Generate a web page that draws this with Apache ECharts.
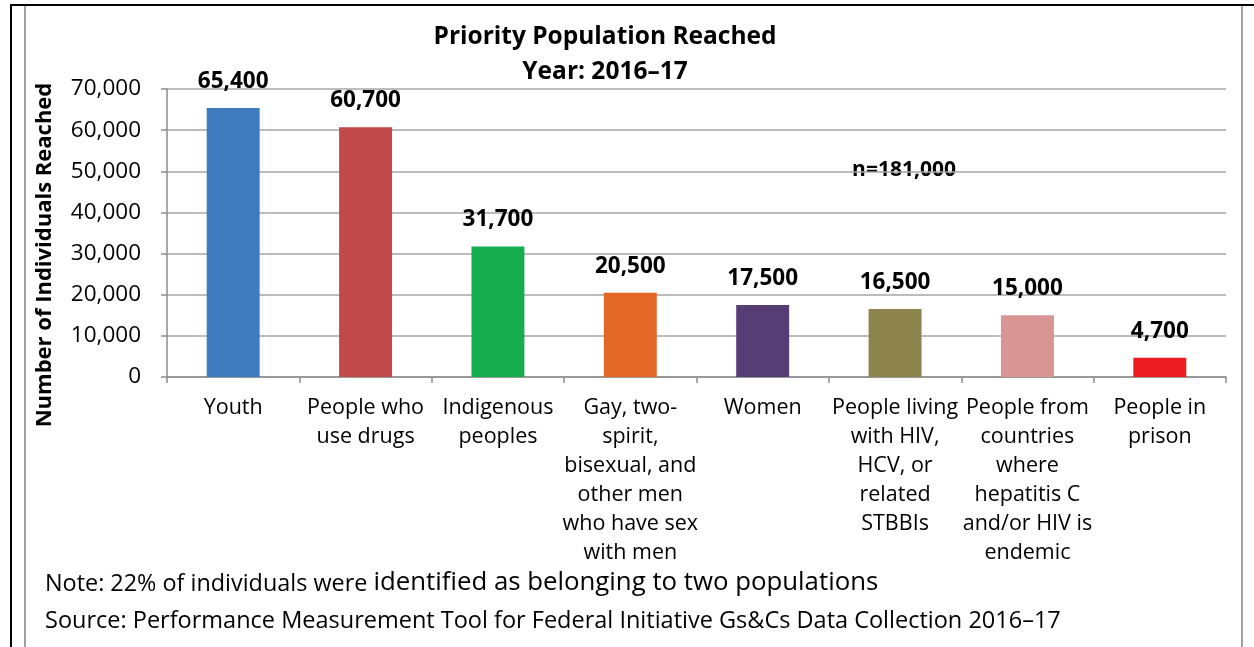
<!DOCTYPE html>
<html>
<head>
<meta charset="utf-8">
<script src="https://cdn.jsdelivr.net/npm/echarts@6/dist/echarts.min.js"></script>
<style>
html,body{margin:0;padding:0;background:#fff;}
#chart{width:1254px;height:647px;}
</style>
</head>
<body>
<div id="chart"></div>
<script>
const categories = [
  "Youth",
  "People who\nuse drugs",
  "Indigenous\npeoples",
  "Gay, two-\nspirit,\nbisexual, and\nother men\nwho have sex\nwith men",
  "Women",
  "People living\nwith HIV,\nHCV, or\nrelated\nSTBBIs",
  "People from\ncountries\nwhere\nhepatitis C\nand/or HIV is\nendemic",
  "People in\nprison"
];
const values = [65400, 60700, 31700, 20500, 17500, 16500, 15000, 4700];
const barColors = ["#3F7CBF", "#C0494A", "#15AD4E", "#E46825", "#573D76", "#8C844C", "#D99594", "#ED1C24"];
const yTicks = [0, 10000, 20000, 30000, 40000, 50000, 60000, 70000];

const FONT = "Open Sans";
const chart = echarts.init(document.getElementById('chart'), null, {renderer: 'canvas'});
const fmt = v => v.toLocaleString('en-US');

chart.setOption({
  animation: false,
  backgroundColor: '#fff',
  grid: {left: 167, right: 28, top: 89, bottom: 270, containLabel: false},
  xAxis: {
    type: 'category',
    data: categories,
    axisLine: {lineStyle: {color: '#8c8c8c', width: 1.5}},
    axisTick: {show: true, alignWithLabel: false, length: 6, lineStyle: {color: '#8c8c8c', width: 1.5}},
    axisLabel: {interval: 0, color: '#000', fontFamily: FONT, fontSize: 21.5, lineHeight: 29, margin: 16}
  },
  yAxis: {
    type: 'value',
    min: yTicks[0],
    max: yTicks[yTicks.length - 1],
    interval: 10000,
    axisLine: {show: true, lineStyle: {color: '#8c8c8c', width: 1.5}},
    axisTick: {show: true, length: 6, lineStyle: {color: '#8c8c8c', width: 1.5}},
    splitLine: {lineStyle: {color: '#a6a6a6', width: 1.5}},
    axisLabel: {color: '#000', fontFamily: FONT, fontSize: 22.5, margin: 26, formatter: v => fmt(v)}
  },
  series: [{
    type: 'bar',
    data: values.map((v, i) => ({value: v, itemStyle: {color: barColors[i]}})),
    barWidth: '40%',
    label: {
      show: true, position: 'top', distance: 15,
      color: '#000', fontFamily: FONT, fontWeight: 'bold', fontSize: 22.5,
      formatter: p => fmt(p.value)
    }
  }],
  graphic: [
    {type: 'line', shape: {x1: 11, y1: 5, x2: 11, y2: 647}, style: {stroke: '#000', lineWidth: 2}},
    {type: 'line', shape: {x1: 10, y1: 5, x2: 1254, y2: 5}, style: {stroke: '#000', lineWidth: 2}},
    {type: 'line', shape: {x1: 25, y1: 6, x2: 25, y2: 647}, style: {stroke: '#a0a0a0', lineWidth: 2}},
    {type: 'line', shape: {x1: 1242, y1: 6, x2: 1242, y2: 647}, style: {stroke: '#a0a0a0', lineWidth: 2}},
    {type: 'text', x: 605, y: 37, style: {text: 'Priority Population Reached', fontFamily: FONT, fontWeight: 'bold', fontSize: 24.5, fill: '#000', align: 'center', verticalAlign: 'middle'}},
    {type: 'text', x: 605, y: 72, style: {text: 'Year: 2016\u201317', fontFamily: FONT, fontWeight: 'bold', fontSize: 24.5, fill: '#000', align: 'center', verticalAlign: 'middle'}},
    {type: 'text', x: 904, y: 170, style: {text: 'n=181,000', fontFamily: FONT, fontWeight: 'bold', fontSize: 21, fill: '#000', align: 'center', verticalAlign: 'middle'}},
    {type: 'text', x: 45, y: 255, rotation: Math.PI / 2, style: {text: 'Number of Individuals Reached', fontFamily: FONT, fontWeight: 'bold', fontSize: 22, fill: '#000', align: 'center', verticalAlign: 'middle'}},
    {type: 'text', left: 45, top: 570, style: {
      text: '{a|Note: 22% of individuals were }{b|identified as belonging to two populations}',
      rich: {
        a: {fontFamily: FONT, fontSize: 23.4, fill: '#000', verticalAlign: 'bottom'},
        b: {fontFamily: FONT, fontSize: 25.8, fill: '#000', verticalAlign: 'bottom'}
      }
    }},
    {type: 'text', x: 45, y: 621, style: {text: 'Source: Performance Measurement Tool for Federal Initiative Gs&Cs Data Collection 2016\u201317', fontFamily: FONT, fontSize: 23.5, fill: '#000', verticalAlign: 'middle'}}
  ]
});
</script>
</body>
</html>
